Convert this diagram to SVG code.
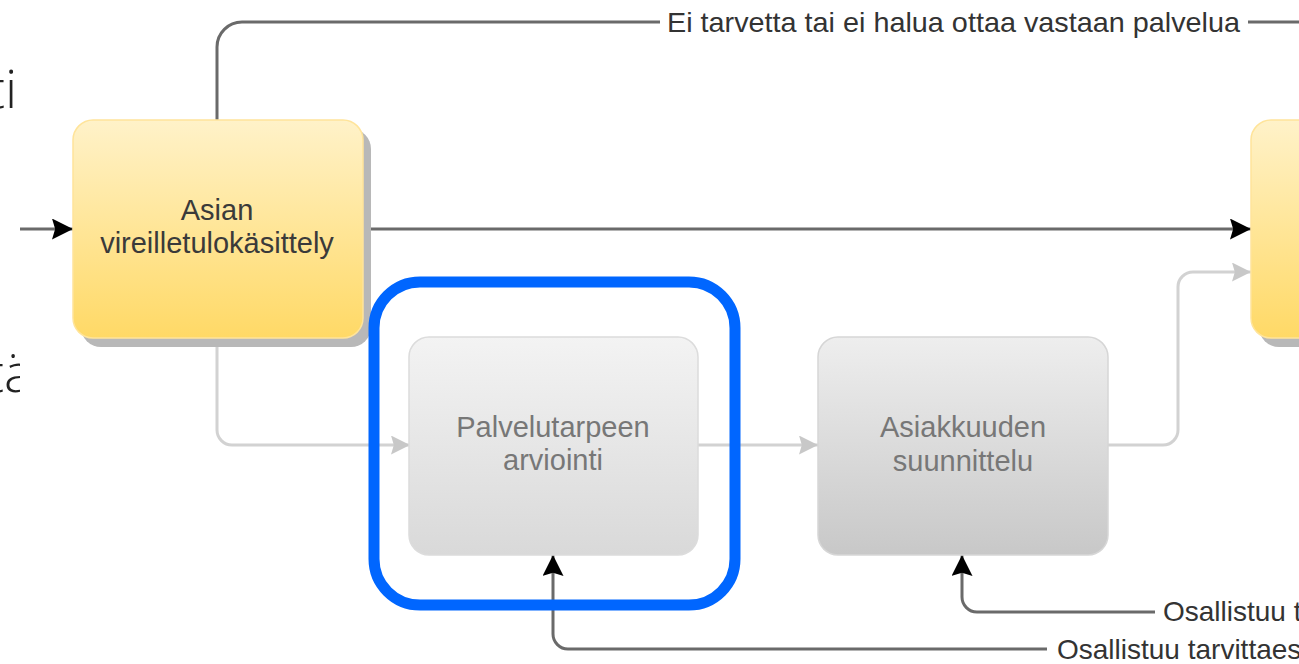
<svg xmlns="http://www.w3.org/2000/svg" width="1299" height="664" viewBox="0 0 1299 664">
<style>
.slide{font-family:"Open Sans","Liberation Sans",sans-serif;font-size:54px;font-weight:300;fill:#222}
.nt{font-family:"Liberation Sans",Arial,sans-serif;font-size:29px;text-anchor:middle}
.yt{fill:#3a3a3a}
.gt{fill:#777}
.lbl{font-family:"Liberation Sans",Arial,sans-serif;font-size:28px;fill:#333}
.dark{fill:none;stroke:#6a6a6a;stroke-width:3}
.light{fill:none;stroke:#d2d2d2;stroke-width:3}
.ynode{fill:url(#yg);stroke:#ffe49a;stroke-width:1.5}
.shadow{fill:#b8b8b8}
</style>
<defs>
<linearGradient id="yg" x1="0" y1="0" x2="0" y2="1">
<stop offset="0" stop-color="#fff2c9"/>
<stop offset="1" stop-color="#ffd966"/>
</linearGradient>
<linearGradient id="g1" x1="0" y1="0" x2="0" y2="1">
<stop offset="0" stop-color="#f3f3f3"/>
<stop offset="1" stop-color="#d9d9d9"/>
</linearGradient>
<linearGradient id="g2" x1="0" y1="0" x2="0" y2="1">
<stop offset="0" stop-color="#eeeeee"/>
<stop offset="1" stop-color="#c8c8c8"/>
</linearGradient>
<marker id="ab" viewBox="0 0 20 20" refX="20" refY="10" markerWidth="21" markerHeight="21" markerUnits="userSpaceOnUse" orient="auto">
<path d="M0,0 L20,10 L0,20 L3,10 z" fill="#000"/>
</marker>
<marker id="al" viewBox="0 0 20 20" refX="20" refY="10" markerWidth="19" markerHeight="19" markerUnits="userSpaceOnUse" orient="auto">
<path d="M0,0 L20,10 L0,20 L3,10 z" fill="#c8c8c8"/>
</marker>
</defs>
<rect x="0" y="0" width="1299" height="664" fill="#fff"/>
<g id="slide-text">
<text class="slide" x="-13" y="108">ti</text>
<text class="slide" x="-14" y="392">tä</text>
</g>
<rect x="20" y="0" width="1279" height="664" fill="#fff"/>

<g id="connectors">
<path class="dark" d="M217,120 V47 A25,25 0 0 1 242,22 H660"/>
<path class="dark" d="M1248,22 H1299"/>
<text class="lbl" x="667" y="32" font-size="29" textLength="573" lengthAdjust="spacingAndGlyphs">Ei tarvetta tai ei halua ottaa vastaan palvelua</text>
<path class="dark" d="M20,229 H73" marker-end="url(#ab)"/>
<path class="dark" d="M360,229 H1251" marker-end="url(#ab)"/>
<path class="light" d="M217,338 V430 A15,15 0 0 0 232,445 H410" marker-end="url(#al)"/>
<path class="light" d="M698,445 H818" marker-end="url(#al)"/>
<path class="light" d="M1108,445 H1163 A15,15 0 0 0 1178,430 V287 A15,15 0 0 1 1193,272 H1251" marker-end="url(#al)"/>
<path class="dark" d="M1155,612 H977 A15,15 0 0 1 962,597 V555" marker-end="url(#ab)"/>
<text class="lbl" x="1163" y="621">Osallistuu t</text>
<path class="dark" d="M1047,649 H568 A15,15 0 0 1 553,634 V555" marker-end="url(#ab)"/>
<text class="lbl" x="1057" y="659">Osallistuu tarvittaes</text>
</g>

<g id="node-vireilletulo">
<rect class="shadow" x="81" y="129" width="290" height="218" rx="20"/>
<rect class="ynode" x="73" y="120" width="290" height="218" rx="20"/>
<text class="nt yt" x="217" y="220">Asian</text>
<text class="nt yt" x="217" y="253">vireilletulokäsittely</text>
</g>

<g id="node-right">
<rect class="shadow" x="1259" y="129" width="120" height="218" rx="20"/>
<rect class="ynode" x="1251" y="120" width="120" height="218" rx="20"/>
</g>

<g id="node-palvelutarve">
<rect x="409" y="337" width="289" height="218" rx="20" fill="url(#g1)" stroke="#dcdcdc" stroke-width="1.5"/>
<text class="nt gt" x="553" y="437">Palvelutarpeen</text>
<text class="nt gt" x="553" y="470">arviointi</text>
</g>

<g id="node-asiakkuus">
<rect x="818" y="337" width="290" height="218" rx="20" fill="url(#g2)" stroke="#d6d6d6" stroke-width="1.5"/>
<text class="nt gt" x="963" y="437">Asiakkuuden</text>
<text class="nt gt" x="963" y="471">suunnittelu</text>
</g>

<g id="highlight">
<rect x="374" y="282" width="361" height="323" rx="46" fill="none" stroke="#0066ff" stroke-width="11"/>
</g>
</svg>
